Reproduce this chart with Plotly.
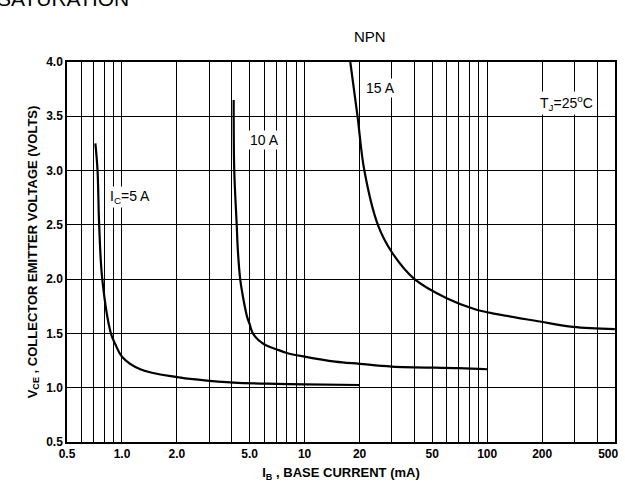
import math
import plotly.graph_objects as go

# Data
ic5_ib = [0.715, 0.735, 0.75, 0.78, 0.87, 0.92, 1.0, 1.26, 2.0, 2.68, 4.1, 7.0, 10.0, 20.0]
ic5_vce = [3.25, 3.0, 2.5, 2.0, 1.5, 1.4, 1.286, 1.17, 1.097, 1.072, 1.047, 1.035, 1.03, 1.025]

ic10_ib = [4.09, 4.12, 4.25, 4.31, 4.44, 4.63, 4.84, 5.0, 5.21, 6.0, 7.0, 8.0, 10.0, 14.7, 20.0, 30.0, 70.0, 100.0]
ic10_vce = [3.65, 3.0, 2.5, 2.27, 2.0, 1.81, 1.655, 1.587, 1.5, 1.40, 1.355, 1.32, 1.286, 1.24, 1.22, 1.195, 1.18, 1.17]

ic15_ib = [17.8, 19.5, 21.25, 25.2, 30.0, 40.0, 60.0, 86.5, 104.0, 194.0, 295.0, 500.0]
ic15_vce = [4.0, 3.5, 3.0, 2.5, 2.25, 2.0, 1.824, 1.72, 1.69, 1.61, 1.56, 1.54]

x_tickvals = [0.5, 1, 2, 5, 10, 20, 50, 100, 200, 500]
x_ticktext = ["0.5", "1.0", "2.0", "5.0", "10", "20", "50", "100", "200", "500"]
x_minorvals = [0.6, 0.7, 0.8, 0.9, 3, 4, 6, 7, 8, 9, 30, 40, 60, 70, 80, 90, 300, 400]
y_tickvals = [0.5, 1.0, 1.5, 2.0, 2.5, 3.0, 3.5, 4.0]
y_ticktext = ["0.5", "1.0", "1.5", "2.0", "2.5", "3.0", "3.5", "4.0"]

curve_labels = ["I<sub>C</sub>=5 A", "10 A", "15 A", "T<sub>J</sub>=25<sup>o</sup>C"]
label_x = [1.11, 6.0, 26.0, 272]
label_y = [2.76, 3.28, 3.76, 3.62]

FONT = "Liberation Sans, Arial, sans-serif"

L, R, T, B = 67, 10, 62, 48
W, H = 625, 490
PW, PH = W - L - R, H - T - B

fig = go.Figure()
for xs, ys in [(ic5_ib, ic5_vce), (ic10_ib, ic10_vce), (ic15_ib, ic15_vce)]:
    fig.add_trace(go.Scatter(x=xs, y=ys, mode="lines",
                             line=dict(color="black", width=2.2, shape="spline", smoothing=1.0),
                             showlegend=False, hoverinfo="skip"))

for t, x, y in zip(curve_labels, label_x, label_y):
    fig.add_annotation(x=math.log10(x), y=y, xref="x", yref="y", text=t, showarrow=False,
                       xanchor="center", yanchor="middle",
                       bgcolor="white", borderpad=1,
                       font=dict(family=FONT, size=14, color="black"))

fig.add_annotation(x=(370 - L) / PW, y=1 + (T - 37) / PH, xref="paper", yref="paper",
                   text="NPN", showarrow=False, xanchor="center", yanchor="middle",
                   font=dict(family=FONT, size=15, color="black"))
fig.add_annotation(x=(-5 - L) / PW, y=1 + (T + 1.5) / PH, xref="paper", yref="paper",
                   text="SATURATION", showarrow=False, xanchor="left", yanchor="middle",
                   font=dict(family=FONT, size=21, color="black"))

x_ticklabels = ["<b>%s</b>" % t for t in x_ticktext]
x_ticklabels[-1] = "<b>500</b>\u00a0\u00a0\u00a0\u00a0"

fig.update_layout(
    width=W, height=H,
    margin=dict(l=L, r=R, t=T, b=B, autoexpand=False),
    paper_bgcolor="white", plot_bgcolor="white",
    font=dict(family=FONT, size=12, color="black"),
    xaxis=dict(type="log", range=[math.log10(0.5), math.log10(500) + 0.001], automargin=False,
               tickmode="array", tickvals=x_tickvals, ticktext=x_ticklabels,
               ticklabeloverflow="allow",
               showgrid=True, gridcolor="black", gridwidth=1.3,
               minor=dict(tickmode="array", tickvals=x_minorvals, showgrid=True,
                          gridcolor="black", gridwidth=1.3, ticks=""),
               showline=True, linecolor="black", linewidth=1.5, mirror=True,
               ticks="", tickfont=dict(family=FONT, size=12, color="black"),
               title=dict(text="<b>I<sub>B</sub> , BASE CURRENT (mA)</b>", standoff=8,
                          font=dict(family=FONT, size=13, color="black")),
               zeroline=False),
    yaxis=dict(range=[0.5, 4.0], automargin=False,
               tickmode="array", tickvals=y_tickvals, ticktext=["<b>%s</b>" % t for t in y_ticktext],
               showgrid=True, gridcolor="black", gridwidth=1.3,
               showline=True, linecolor="black", linewidth=1.5, mirror=True,
               ticks="", tickfont=dict(family=FONT, size=12, color="black"),
               title=dict(text="<b>V<sub>CE</sub> , COLLECTOR EMITTER VOLTAGE (VOLTS)</b>", standoff=6,
                          font=dict(family=FONT, size=13, color="black")),
               zeroline=False),
)

fig.write_html("out.html", config={"displayModeBar": False},
               post_script="document.body.style.margin='0';")
